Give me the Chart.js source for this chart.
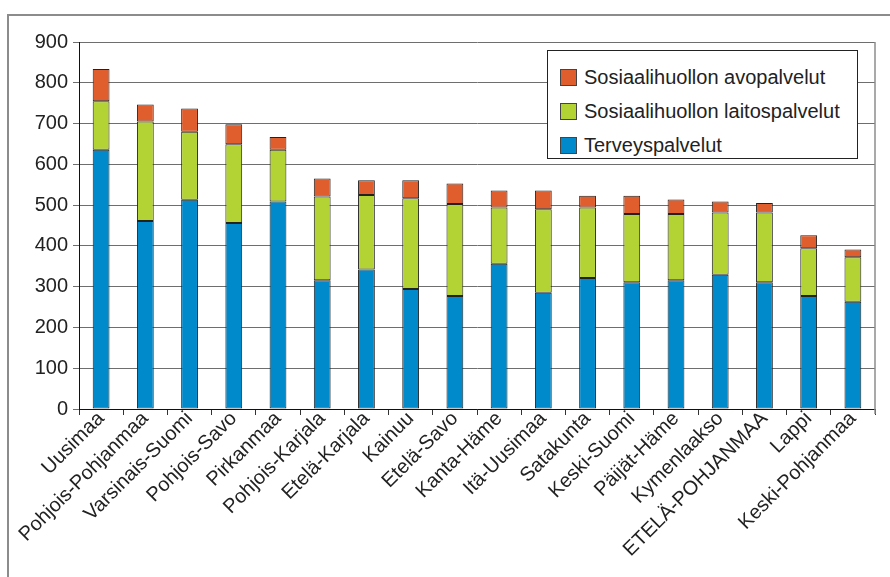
<!DOCTYPE html>
<html>
<head>
<meta charset="utf-8">
<script src="https://cdn.jsdelivr.net/npm/chart.js@4/dist/chart.umd.min.js"></script>
<style>
  html, body { margin: 0; padding: 0; background: #fff; overflow: hidden; }
  #wrap { position: relative; width: 890px; height: 577px; }
  #frame { position: absolute; left: 7px; top: 14px; width: 900px; height: 600px; border: 2px solid #8c8c8c; box-sizing: border-box; }
  #chart { position: absolute; left: 0; top: 0; }
  #legend {
    position: absolute; left: 547px; top: 50px; width: 311px; height: 109px;
    border: 1px solid #222; background: #fff; box-sizing: border-box;
    font-family: Arial, "Liberation Sans", sans-serif; font-size: 20px; color: #222;
    padding-top: 9px;
  }
  .item { display: flex; align-items: center; height: 34px; padding-left: 12px; }
  .sw { width: 17px; height: 17px; border: 1px solid #444; box-sizing: border-box; margin-right: 7px; }
</style>
</head>
<body>
<div id="wrap">
  <div id="frame"></div>
  <canvas id="chart" width="890" height="577"></canvas>
  <div id="legend"></div>
</div>
<script>
// Data
const regions = ['Uusimaa', 'Pohjois-Pohjanmaa', 'Varsinais-Suomi', 'Pohjois-Savo', 'Pirkanmaa',
  'Pohjois-Karjala', 'Etelä-Karjala', 'Kainuu', 'Etelä-Savo', 'Kanta-Häme', 'Itä-Uusimaa',
  'Satakunta', 'Keski-Suomi', 'Päijät-Häme', 'Kymenlaakso', 'ETELÄ-POHJANMAA', 'Lappi', 'Keski-Pohjanmaa'];
const terveyspalvelut = [636, 461, 513, 456, 509, 316, 342, 294, 277, 356, 285, 321, 311, 316, 329, 311, 277, 263];
const laitospalvelut = [119, 244, 167, 193, 127, 205, 183, 223, 226, 138, 205, 173, 167, 162, 153, 171, 117, 109];
const avopalvelut = [79, 42, 57, 49, 31, 44, 36, 44, 50, 42, 46, 29, 45, 36, 27, 23, 32, 19];
const yTicks = [0, 100, 200, 300, 400, 500, 600, 700, 800, 900];

const FONT = 'Arial, "Liberation Sans", sans-serif';

const datasets = [
  { label: 'Terveyspalvelut', data: terveyspalvelut, backgroundColor: '#0089CB' },
  { label: 'Sosiaalihuollon laitospalvelut', data: laitospalvelut, backgroundColor: '#B3D335' },
  { label: 'Sosiaalihuollon avopalvelut', data: avopalvelut, backgroundColor: '#E05D2E' }
].map(d => Object.assign(d, {
  borderColor: '#222', borderWidth: 1, borderSkipped: false,
  barPercentage: 0.38, categoryPercentage: 1
}));

// right edge of plot area
const plotEdge = {
  id: 'plotEdge',
  afterDraw(chart) {
    const a = chart.chartArea, ctx = chart.ctx;
    ctx.save();
    ctx.strokeStyle = '#8c8c8c';
    ctx.lineWidth = 1.5;
    ctx.beginPath();
    ctx.moveTo(a.right, a.top);
    ctx.lineTo(a.right, a.bottom + 5);
    ctx.stroke();
    ctx.restore();
  }
};

new Chart(document.getElementById('chart'), {
  type: 'bar',
  data: { labels: regions, datasets },
  plugins: [plotEdge],
  options: {
    responsive: false,
    animation: false,
    layout: { padding: { left: 0, top: 42, right: 15, bottom: 0 } },
    plugins: { legend: { display: false }, tooltip: { enabled: false } },
    scales: {
      x: {
        stacked: true,
        afterFit(s) { s.height = 168; },
        grid: { drawOnChartArea: false, offset: true, tickLength: 6, color: '#333' },
        border: { color: '#111', width: 1 },
        ticks: { minRotation: 45, maxRotation: 45, autoSkip: false, color: '#222', padding: -8,
          font: { family: FONT, size: 20 } }
      },
      y: {
        stacked: true,
        min: 0, max: 900,
        afterFit(s) { s.width = 79; },
        afterBuildTicks(s) { s.ticks = yTicks.map(v => ({ value: v })); },
        grid: { color: '#6e6e6e', lineWidth: 1, tickLength: 6 },
        border: { color: '#111', width: 1 },
        ticks: { color: '#222', padding: 5, font: { family: FONT, size: 20 } }
      }
    }
  }
});

// legend, top to bottom in reverse stack order
const legend = document.getElementById('legend');
datasets.slice().reverse().forEach(d => {
  const row = document.createElement('div');
  row.className = 'item';
  row.innerHTML = '<div class="sw" style="background:' + d.backgroundColor + '"></div><span>' + d.label + '</span>';
  legend.appendChild(row);
});
</script>
</body>
</html>
